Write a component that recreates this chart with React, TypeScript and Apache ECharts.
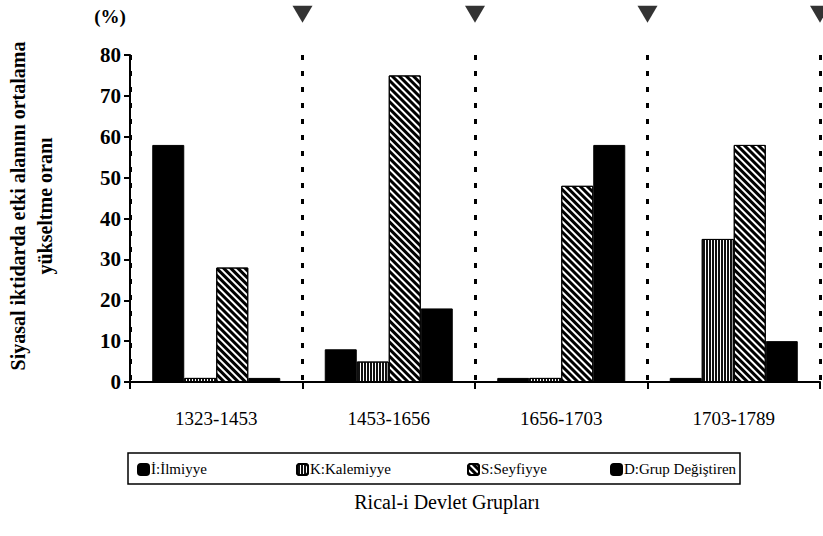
import React, { useEffect, useRef } from "react";
import * as echarts from "echarts";

const categories = ["1323-1453", "1453-1656", "1656-1703", "1703-1789"];
const seriesNames = ["İ:İlmiyye", "K:Kalemiyye", "S:Seyfiyye", "D:Grup Değiştiren"];
const ilmiyye = [58, 8, 1, 1];
const kalemiyye = [1, 5, 1, 35];
const seyfiyye = [28, 75, 48, 58];
const grupDegistiren = [1, 18, 58, 10];
const yTicks = { min: 0, max: 80, interval: 10 };
const markerPositions = [1, 2, 3, 4];
const markerLevel = 90;

const FONT = "Liberation Serif";

export default function App() {
  const ref = useRef<HTMLDivElement>(null);
  useEffect(() => {
    if (!ref.current) return;
    const chart = echarts.init(ref.current, null, { renderer: "svg" });
    const solid = { color: "#000", borderColor: "#000", borderWidth: 1 };
    const vertical = {
      color: "#fff",
      borderColor: "#000",
      borderWidth: 1,
      decal: {
        symbol: "rect",
        symbolSize: 1,
        dashArrayX: [1, 0],
        dashArrayY: [1.4, 1],
        rotation: Math.PI / 2,
        color: "#111",
        backgroundColor: "#fff",
      },
    };
    const diagonal = {
      color: "#fff",
      borderColor: "#000",
      borderWidth: 1,
      decal: {
        symbol: "rect",
        symbolSize: 1,
        dashArrayX: [1, 0],
        dashArrayY: [2.4, 1.3],
        rotation: Math.PI / 4,
        color: "#000",
        backgroundColor: "#fff",
      },
    };
    const styles = [solid, vertical, diagonal, solid];
    const values = [ilmiyye, kalemiyye, seyfiyye, grupDegistiren];
    const legendLefts = [137, 296, 467, 610];
    const legendTextLefts = [151, 310, 481, 624];

    const option: any = {
      animation: false,
      backgroundColor: "#fff",
      textStyle: { fontFamily: FONT, color: "#000" },
      grid: { left: 130, right: 3, top: 55, bottom: 154 },
      legend: seriesNames.map((n, i) => ({
        show: true,
        data: [n],
        left: legendLefts[i],
        top: 463,
        itemWidth: 11,
        itemHeight: 11,
        itemGap: 0,
        padding: 0,
        formatter: () => "",
        selectedMode: false,
      })),
      xAxis: [
        {
          type: "category",
          data: categories,
          axisLine: { show: true, lineStyle: { color: "#000", width: 2 } },
          axisTick: { show: true, interval: 0, length: 7, lineStyle: { color: "#000", width: 2 } },
          axisLabel: { fontFamily: FONT, fontSize: 19, color: "#000", margin: 27 },
          splitLine: {
            show: true,
            interval: 0,
            lineStyle: { color: "#000", width: 3, type: [5, 11] },
          },
        },
        { type: "value", min: 0, max: 4, show: false },
      ],
      yAxis: {
        type: "value",
        min: yTicks.min,
        max: yTicks.max,
        interval: yTicks.interval,
        axisLine: { show: true, lineStyle: { color: "#000", width: 2 } },
        axisTick: { show: true, length: 6, lineStyle: { color: "#000", width: 2 } },
        axisLabel: { fontFamily: FONT, fontSize: 21, fontWeight: "bold", color: "#000", margin: 9 },
        splitLine: { show: false },
      },
      series: [
        ...seriesNames.map((n, i) => ({
          name: n,
          type: "bar",
          data: values[i],
          barWidth: 32,
          barGap: "0%",
          itemStyle: styles[i],
        })),
        {
          type: "scatter",
          xAxisIndex: 1,
          yAxisIndex: 0,
          data: markerPositions.map((x) => [x, markerLevel]),
          symbol: "triangle",
          symbolRotate: 180,
          symbolSize: [20, 17],
          clip: false,
          itemStyle: { color: "#000" },
          silent: true,
        },
      ],
      graphic: [
        {
          type: "text",
          x: 110,
          y: 16,
          style: {
            text: "(%)",
            font: `bold 19px ${FONT}`,
            fill: "#000",
            align: "center",
            verticalAlign: "middle",
          },
        },
        {
          type: "text",
          x: 31,
          y: 206,
          rotation: Math.PI / 2,
          style: {
            text: "Siyasal iktidarda etki alanını ortalama\nyükseltme oranı",
            font: `bold 20px ${FONT}`,
            lineHeight: 27,
            fill: "#000",
            align: "center",
            verticalAlign: "middle",
          },
        },
        {
          type: "rect",
          shape: { x: 128, y: 453, width: 612, height: 31 },
          style: { fill: "none", stroke: "#000", lineWidth: 1.5 },
        },
        ...seriesNames.map((n, i) => ({
          type: "text",
          x: legendTextLefts[i],
          y: 469,
          style: {
            text: n,
            font: `15px ${FONT}`,
            fill: "#000",
            align: "left",
            verticalAlign: "middle",
          },
        })),
        {
          type: "text",
          x: 447,
          y: 502,
          style: {
            text: "Rical-i Devlet Grupları",
            font: `20px ${FONT}`,
            fill: "#000",
            align: "center",
            verticalAlign: "middle",
          },
        },
      ],
    };
    chart.setOption(option);
    return () => chart.dispose();
  }, []);
  return (
    <div
      ref={ref}
      style={{ position: "fixed", left: 0, top: 0, width: 823, height: 536 }}
    />
  );
}
